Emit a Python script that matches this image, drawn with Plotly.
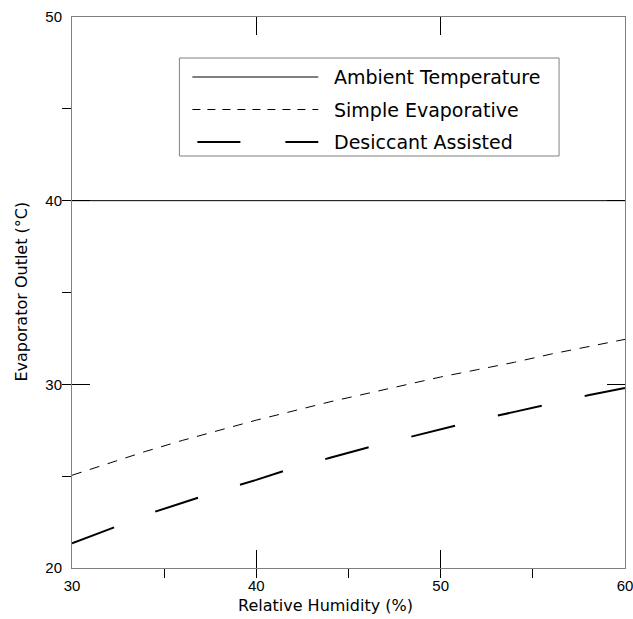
import plotly.graph_objects as go

# Data
humidity = [30, 32, 34, 36, 38, 40, 42, 44, 46, 48, 50, 52, 54, 56, 58, 60]
ambient = [40] * len(humidity)
simple_evap = [25.05, 25.7, 26.35, 26.95, 27.5, 28.05, 28.55, 29.05, 29.5, 29.95,
               30.4, 30.8, 31.2, 31.65, 32.05, 32.45]
desiccant = [21.35, 22.1, 22.9, 23.55, 24.2, 24.8, 25.45, 26.0, 26.55, 27.05,
             27.55, 28.05, 28.5, 28.95, 29.4, 29.8]
series_names = ["Ambient Temperature", "Simple Evaporative", "Desiccant Assisted"]
x_title = "Relative Humidity (%)"
y_title = "Evaporator Outlet (°C)"

W, H = 633, 619
L, R, T, B = 71.5, 8, 17, 51
pw, ph = W - L - R, H - T - B

def px(x):
    return (x - L) / pw

def py(y):
    return (H - B - y) / ph

TICKFONT = "Liberation Sans, Arial, sans-serif"
WIDEFONT = "DejaVu Sans, Verdana, sans-serif"

fig = go.Figure()
fig.add_trace(go.Scatter(x=humidity, y=ambient, mode="lines",
                         line=dict(color="black", width=1), name=series_names[0],
                         showlegend=False))
fig.add_trace(go.Scatter(x=humidity, y=simple_evap, mode="lines",
                         line=dict(color="black", width=1, dash="10px,8.7px"),
                         name=series_names[1], showlegend=False))
fig.add_trace(go.Scatter(x=humidity, y=desiccant, mode="lines",
                         line=dict(color="black", width=2, dash="45px,44px"),
                         name=series_names[2], showlegend=False))
# dummy trace to activate mirrored axes
fig.add_trace(go.Scatter(x=[None], y=[None], xaxis="x2", yaxis="y2",
                         showlegend=False, hoverinfo="skip"))

# Manual legend
box = dict(x0=px(179), x1=px(559), y0=py(156), y1=py(58))
fig.add_shape(type="rect", xref="paper", yref="paper", **box,
              line=dict(color="#808080", width=1), fillcolor="white", layer="above")
legend_y = [77, 109.5, 142]
legend_styles = [dict(color="black", width=1),
                 dict(color="black", width=1, dash="8px,7px"),
                 dict(color="black", width=2, dash="43px,45px")]
legend_x0 = [192, 192, 197]
for name, yy, st, x0 in zip(series_names, legend_y, legend_styles, legend_x0):
    fig.add_shape(type="line", xref="paper", yref="paper",
                  x0=px(x0), x1=px(318), y0=py(yy), y1=py(yy), line=st, layer="above")
    fig.add_annotation(xref="paper", yref="paper", x=px(332), y=py(yy),
                       text=name, showarrow=False, xanchor="left", yanchor="middle",
                       font=dict(family=WIDEFONT, size=19, color="black"))

# Axis titles
fig.add_annotation(xref="paper", yref="paper", x=px(325), y=py(605), text=x_title,
                   showarrow=False, xanchor="center", yanchor="middle",
                   font=dict(family=WIDEFONT, size=16, color="black"))
fig.add_annotation(xref="paper", yref="paper", x=px(20), y=py(292), text=y_title,
                   textangle=-90, showarrow=False, xanchor="center", yanchor="middle",
                   font=dict(family=WIDEFONT, size=16, color="black"))

axis_common = dict(showgrid=False, zeroline=False, ticks="inside", ticklen=18,
                   tickcolor="black", tickwidth=1, automargin=False)

fig.update_layout(
    width=W, height=H,
    margin=dict(l=L, r=R, t=T, b=B, pad=0, autoexpand=False),
    paper_bgcolor="white", plot_bgcolor="white",
    font=dict(family=TICKFONT, size=15, color="black"),
    showlegend=False,
    xaxis=dict(range=[30, 60], tick0=30, dtick=10, showline=True, linecolor="#808080",
               linewidth=1, mirror=True, ticklabeloverflow="allow", ticklabelstandoff=4,
               minor=dict(ticks="outside", ticklen=9, tick0=30, dtick=5,
                          tickcolor="black", showgrid=False),
               **axis_common),
    yaxis=dict(range=[20, 50], tick0=20, dtick=10, showline=True, linecolor="#808080",
               linewidth=1, mirror=True, ticklabeloverflow="allow", ticklabelstandoff=6,
               minor=dict(ticks="outside", ticklen=9, tick0=20, dtick=5,
                          tickcolor="black", showgrid=False),
               **axis_common),
    xaxis2=dict(range=[30, 60], tick0=30, dtick=10, overlaying="x", side="top",
                anchor="y", showticklabels=False, showline=False, **axis_common),
    yaxis2=dict(range=[20, 50], tick0=20, dtick=10, overlaying="y", side="right",
                anchor="x", showticklabels=False, showline=False, **axis_common),
)

fig.write_html("out.html")
